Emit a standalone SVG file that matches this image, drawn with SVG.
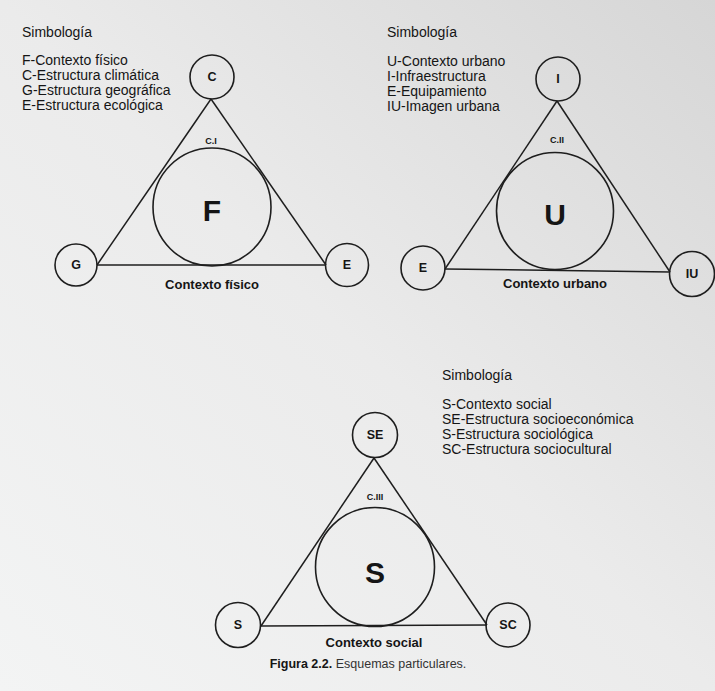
<svg xmlns="http://www.w3.org/2000/svg" width="715" height="691" viewBox="0 0 715 691">
<defs>
<linearGradient id="bg" x1="0" y1="1" x2="1" y2="0">
<stop offset="0" stop-color="#f3f4f4"/>
<stop offset="0.5" stop-color="#ebebeb"/>
<stop offset="1" stop-color="#d6d6d6"/>
</linearGradient>
<style>
.c{fill:none;stroke:#1e1e1e;stroke-width:1.6}
.e{stroke:#1e1e1e;stroke-width:1.5;fill:none}
text{font-family:"Liberation Sans",Arial,sans-serif;fill:#151515}
.leg{font-size:14px}
.tit{font-size:14px}
.n{font-size:12.5px;font-weight:bold;text-anchor:middle;dominant-baseline:central}
.big{font-size:30px;font-weight:bold;text-anchor:middle;dominant-baseline:central}
.ci{font-size:9px;font-weight:bold;text-anchor:middle;dominant-baseline:central}
.lab{font-size:13px;font-weight:bold;text-anchor:middle}
.cap{font-size:12.5px}
</style>
</defs>
<rect x="0" y="0" width="715" height="691" fill="url(#bg)"/>

<g id="connectors">
<line class="e" x1="211" y1="99" x2="97" y2="265"/>
<line class="e" x1="211" y1="99" x2="326" y2="265"/>
<line class="e" x1="97" y1="265" x2="326" y2="265"/>
<line class="e" x1="557" y1="101" x2="445" y2="269"/>
<line class="e" x1="557" y1="101" x2="670" y2="272"/>
<line class="e" x1="445" y1="269" x2="670" y2="272"/>
<line class="e" x1="374" y1="458" x2="261" y2="626"/>
<line class="e" x1="374" y1="458" x2="487" y2="625"/>
<line class="e" x1="261" y1="626" x2="487" y2="625"/>
</g>

<g id="legend1">
<text class="tit" x="22" y="37">Simbología</text>
<text class="leg" x="22" y="65">F-Contexto físico</text>
<text class="leg" x="22" y="80">C-Estructura climática</text>
<text class="leg" x="22" y="95">G-Estructura geográfica</text>
<text class="leg" x="22" y="110">E-Estructura ecológica</text>
</g>
<g id="nodeC"><circle class="c" cx="212" cy="77" r="22"/><text class="n" x="212" y="77">C</text></g>
<g id="nodeG"><circle class="c" cx="76" cy="265" r="21"/><text class="n" x="76" y="265">G</text></g>
<g id="nodeE1"><circle class="c" cx="347" cy="265" r="21.5"/><text class="n" x="347" y="265">E</text></g>
<g id="nodeF"><circle class="c" cx="212" cy="207" r="59"/><text class="big" x="212" y="210">F</text></g>
<text class="ci" x="211" y="141">C.I</text>
<text class="lab" x="212" y="289">Contexto físico</text>

<g id="legend2">
<text class="tit" x="387" y="37">Simbología</text>
<text class="leg" x="387" y="66">U-Contexto urbano</text>
<text class="leg" x="387" y="81">I-Infraestructura</text>
<text class="leg" x="387" y="96">E-Equipamiento</text>
<text class="leg" x="387" y="111">IU-Imagen urbana</text>
</g>
<g id="nodeI"><circle class="c" cx="558" cy="79" r="22"/><text class="n" x="558" y="79">I</text></g>
<g id="nodeE2"><circle class="c" cx="423" cy="268" r="22"/><text class="n" x="423" y="268">E</text></g>
<g id="nodeIU"><circle class="c" cx="692" cy="274" r="22.5"/><text class="n" x="692" y="274">IU</text></g>
<g id="nodeU"><circle class="c" cx="555" cy="211" r="58.5"/><text class="big" x="555" y="214">U</text></g>
<text class="ci" x="557" y="140">C.II</text>
<text class="lab" x="555" y="288">Contexto urbano</text>

<g id="legend3">
<text class="tit" x="442" y="380">Simbología</text>
<text class="leg" x="442" y="409">S-Contexto social</text>
<text class="leg" x="442" y="424">SE-Estructura socioeconómica</text>
<text class="leg" x="442" y="439">S-Estructura sociológica</text>
<text class="leg" x="442" y="454">SC-Estructura sociocultural</text>
</g>
<g id="nodeSE"><circle class="c" cx="375" cy="435" r="22.5"/><text class="n" x="375" y="435">SE</text></g>
<g id="nodeS1"><circle class="c" cx="238" cy="625" r="22.5"/><text class="n" x="238" y="625">S</text></g>
<g id="nodeSC"><circle class="c" cx="508" cy="625" r="22"/><text class="n" x="508" y="625">SC</text></g>
<g id="nodeS"><circle class="c" cx="375" cy="567" r="59.5"/><text class="big" x="375" y="572">S</text></g>
<text class="ci" x="375" y="497">C.III</text>
<text class="lab" x="374" y="647">Contexto social</text>

<text class="cap" x="368" y="668" text-anchor="middle"><tspan font-weight="bold">Figura 2.2.</tspan><tspan font-weight="300" fill="#333"> Esquemas particulares.</tspan></text>
</svg>
